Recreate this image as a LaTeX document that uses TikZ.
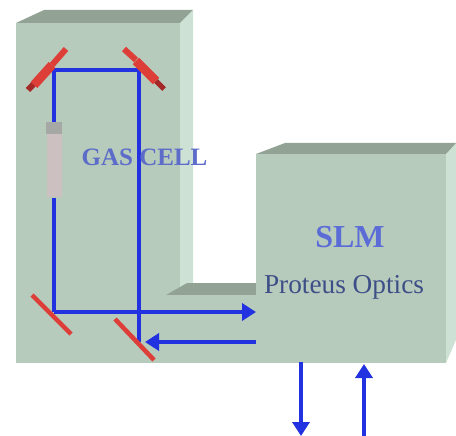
\documentclass[tikz,border=0pt]{standalone}
\usepackage{fontspec}
\setmainfont{Liberation Serif}
\usetikzlibrary{arrows.meta}
\definecolor{boxfront}{RGB}{182,203,188}
\definecolor{boxtop}{RGB}{146,163,150}
\definecolor{boxside}{RGB}{205,226,212}
\definecolor{beamblue}{RGB}{35,50,225}
\definecolor{mirrorred}{RGB}{222,62,56}
\definecolor{mirrordark}{RGB}{165,40,40}
\definecolor{gastext}{RGB}{92,108,200}
\definecolor{slmtext}{RGB}{92,108,215}
\definecolor{protext}{RGB}{62,78,135}
\definecolor{cellcapgray}{RGB}{165,168,165}
\definecolor{cellpink}{RGB}{205,192,192}
\tikzset{
  beam/.style={draw=beamblue,line width=3.6pt},
  beamtip/.style={-{Triangle[width=17pt,length=14pt]}},
  mirror/.style={line cap=butt},
  front/.style={fill=boxfront},
  top/.style={fill=boxtop},
  side/.style={fill=boxside},
  label/.style={inner sep=0pt}
}
\begin{document}
\begin{tikzpicture}[x=1pt,y=-1pt]
\useasboundingbox (0,0) rectangle (456,436);
% gas cell box
\fill[side] (180,23) -- (193,10) -- (193,283) -- (180,296) -- cycle;
\fill[top] (16,23) -- (44,10) -- (193,10) -- (180,23) -- cycle;
\fill[front] (16,23) rectangle (180,363);
% small box
\fill[top] (166,295) -- (187,283) -- (256,283) -- (256,295) -- cycle;
\fill[front] (166,295) rectangle (256,363);
% SLM box
\fill[side] (446,154) -- (456,143) -- (456,340) -- (446,363) -- cycle;
\fill[top] (256,154) -- (285,143) -- (456,143) -- (446,154) -- cycle;
\fill[front] (256,154) rectangle (446,363);
% beam corners
\coordinate (tl) at (54,70);
\coordinate (tr) at (139,70);
\coordinate (bl) at (54,312);
\coordinate (br) at (139,342);
\coordinate (slmin) at (256,312);
\coordinate (slmout) at (256,342);
\coordinate (outtop) at (301,362);
\coordinate (outend) at (301,436);
\coordinate (inend) at (364,364);
\coordinate (instart) at (364,436);
% gas cell tube
\node[label,fill=cellcapgray,minimum width=16pt,minimum height=12pt] (cellcap) at (54,128) {};
\node[label,fill=cellpink,minimum width=15pt,minimum height=63pt,anchor=north] (cell) at (cellcap.south) {};
\draw[beam] (cellcap.north) -- (tl) -- (tr) -- (br);
\draw[beam] (cell.south) -- (bl);
\draw[beam,beamtip] (bl) -- (slmin);
\draw[beam,beamtip] (slmout) -- (145,342);
\draw[beam,beamtip] (outtop) -- (outend);
\draw[beam,beamtip] (instart) -- (inend);
% mirrors
\draw[mirror,mirrordark,line width=6pt] (28,90) -- (46,71);
\draw[mirror,mirrorred,line width=9pt] (34,85) -- (52,65);
\draw[mirror,mirrorred,line width=6pt] (52,65) -- (66,49);
\draw[mirror,mirrorred,line width=6pt] (124,49) -- (136,60);
\draw[mirror,mirrorred,line width=9pt] (136,61) -- (156,81);
\draw[mirror,mirrordark,line width=5pt] (156,81) -- (164,89);
\draw[mirror,mirrorred,line width=4.5pt] (32,295) -- (71,334);
\draw[mirror,mirrorred,line width=4.5pt] (115,319) -- (154,360);
% labels
\node[label,text=gastext,font=\bfseries\fontsize{25}{25}\selectfont] (gas) at (144.5,157) {GAS CELL};
\node[label,text=slmtext,font=\bfseries\fontsize{32}{32}\selectfont] (slm) at (350,237) {SLM};
\node[label,text=protext,font=\fontsize{27.3}{28}\selectfont] (proteus) at (344,287) {Proteus Optics};
\end{tikzpicture}
\end{document}
